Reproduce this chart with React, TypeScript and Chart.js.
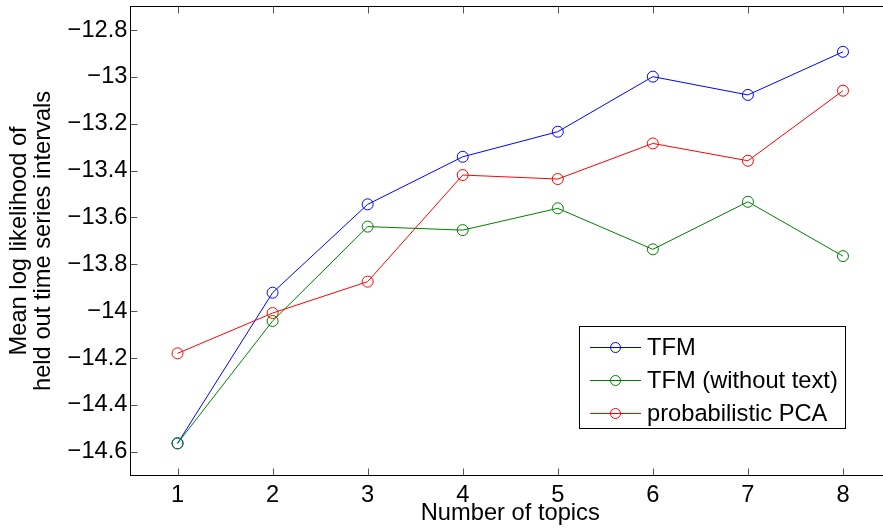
import React, { useEffect, useRef } from "react";
import { Chart, registerables } from "chart.js";

Chart.register(...registerables);

const topics = [1, 2, 3, 4, 5, 6, 7, 8];
const tfm = [-14.564, -13.921, -13.544, -13.341, -13.234, -12.999, -13.077, -12.893];
const tfmNoText = [-14.564, -14.042, -13.639, -13.654, -13.561, -13.736, -13.533, -13.765];
const ppca = [-14.18, -14.008, -13.874, -13.419, -13.436, -13.284, -13.358, -13.059];
const seriesLabels = ["TFM", "TFM (without text)", "probabilistic PCA"];
const seriesColors = ["#0000ff", "#008000", "#ff0000"];
const xTickValues = [1, 2, 3, 4, 5, 6, 7, 8];
const yTickValues = [-14.6, -14.4, -14.2, -14, -13.8, -13.6, -13.4, -13.2, -13, -12.8];
const yTitle = ["Mean log likelihood of", "held out time series intervals"];
const xTitle = "Number of topics";

const FONT = "'Liberation Sans', Arial, Helvetica, sans-serif";
const FS = 23.7;

const framePlugin = {
  id: "frame",
  afterDatasetsDraw(chart: any) {
    const { ctx, chartArea: a, scales } = chart;
    const xs = scales.x;
    const ys = scales.y;
    const L = Math.floor(a.left) + 0.5;
    const R = Math.floor(a.right) + 0.5;
    const T = Math.floor(a.top) + 0.5;
    const B = Math.floor(a.bottom) + 0.5;
    const TL = 7;
    ctx.save();
    ctx.lineWidth = 1;
    ctx.strokeStyle = "#555";
    ctx.beginPath();
    xs.ticks.forEach((t: any) => {
      const px = Math.round(xs.getPixelForValue(t.value)) + 0.5;
      ctx.moveTo(px, B);
      ctx.lineTo(px, B - TL);
      ctx.moveTo(px, T);
      ctx.lineTo(px, T + TL);
    });
    ys.ticks.forEach((t: any) => {
      const py = Math.round(ys.getPixelForValue(t.value)) + 0.5;
      ctx.moveTo(L, py);
      ctx.lineTo(L + TL, py);
      ctx.moveTo(R, py);
      ctx.lineTo(R - TL, py);
    });
    ctx.stroke();
    ctx.strokeStyle = "#000";
    ctx.strokeRect(L, T, R - L, B - T);
    ctx.restore();
  },
  afterDraw(chart: any) {
    const { ctx } = chart;
    const bx = 579.5, by = 326.5, bw = 266, bh = 102;
    ctx.save();
    ctx.fillStyle = "#fff";
    ctx.fillRect(bx, by, bw, bh);
    ctx.strokeStyle = "#000";
    ctx.lineWidth = 1;
    ctx.strokeRect(bx, by, bw, bh);
    ctx.font = `${FS}px ${FONT}`;
    ctx.textBaseline = "middle";
    ctx.textAlign = "left";
    chart.data.datasets.forEach((ds: any, i: number) => {
      const cy = Math.round(346.7 + i * 33.3) + 0.5;
      ctx.strokeStyle = ds.borderColor;
      ctx.beginPath();
      ctx.moveTo(590, cy);
      ctx.lineTo(641, cy);
      ctx.stroke();
      ctx.beginPath();
      ctx.arc(615.5, cy, 5, 0, Math.PI * 2);
      ctx.stroke();
      ctx.fillStyle = "#000";
      ctx.fillText(ds.label, 647, cy + 1);
    });
    ctx.restore();
  },
};

function fmt(v: number) {
  const r = Math.round(v * 10) / 10;
  return String(r).replace("-", "\u2212");
}

export default function App() {
  const ref = useRef<HTMLCanvasElement | null>(null);
  useEffect(() => {
    if (!ref.current) return;
    const series = [tfm, tfmNoText, ppca];
    const chart = new Chart(ref.current, {
      type: "line",
      data: {
        datasets: series.map((s, i) => ({
          label: seriesLabels[i],
          data: topics.map((t, j) => ({ x: t, y: s[j] })),
          borderColor: seriesColors[i],
          backgroundColor: "rgba(0,0,0,0)",
          pointBorderColor: seriesColors[i],
          pointBackgroundColor: "rgba(0,0,0,0)",
          pointRadius: 5.5,
          pointBorderWidth: 1,
          borderWidth: 1,
          tension: 0,
          order: 3 - i,
        })),
      },
      options: {
        animation: false,
        responsive: false,
        devicePixelRatio: 1,
        layout: { padding: { top: 6.6, right: 9.5, left: 0, bottom: 0 } },
        plugins: { legend: { display: false }, tooltip: { enabled: false } },
        scales: {
          x: {
            type: "linear",
            min: 0.5,
            max: 8.5,
            grid: { display: false, drawTicks: false },
            border: { display: false },
            afterBuildTicks: (s: any) => {
              s.ticks = xTickValues.map((v) => ({ value: v }));
            },
            ticks: {
              padding: 6,
              color: "#000",
              font: { family: FONT, size: FS },
              callback: (v: any) => String(v),
              maxRotation: 0,
              autoSkip: false,
            },
            title: {
              display: true,
              text: xTitle,
              color: "#000",
              font: { family: FONT, size: FS, lineHeight: 1 },
              padding: { top: 0, bottom: 5.5 },
            },
            afterFit: (s: any) => {
              s.height = 55.8;
              s.paddingLeft = 0;
              s.paddingRight = 0;
            },
          },
          y: {
            type: "linear",
            min: -14.7,
            max: -12.7,
            grid: { display: false, drawTicks: false },
            border: { display: false },
            afterBuildTicks: (s: any) => {
              s.ticks = yTickValues.map((v) => ({ value: v }));
            },
            ticks: {
              padding: 2.5,
              color: "#000",
              font: { family: FONT, size: FS },
              callback: (v: any) => fmt(Number(v)),
              autoSkip: false,
            },
            title: {
              display: true,
              text: yTitle,
              color: "#000",
              font: { family: FONT, size: FS, lineHeight: 1 },
              padding: { top: 7.5, bottom: 0 },
            },
            afterFit: (s: any) => {
              s.width = 130;
              s.paddingTop = 0;
              s.paddingBottom = 0;
            },
          },
        },
      },
      plugins: [framePlugin],
    } as any);
    return () => chart.destroy();
  }, []);
  return (
    <div
      style={{
        position: "fixed",
        left: 0,
        top: 0,
        width: 883,
        height: 531,
        overflow: "hidden",
        background: "#fff",
      }}
    >
      <canvas ref={ref} width={900} height={531} style={{ width: 900, height: 531, display: "block" }} />
    </div>
  );
}
